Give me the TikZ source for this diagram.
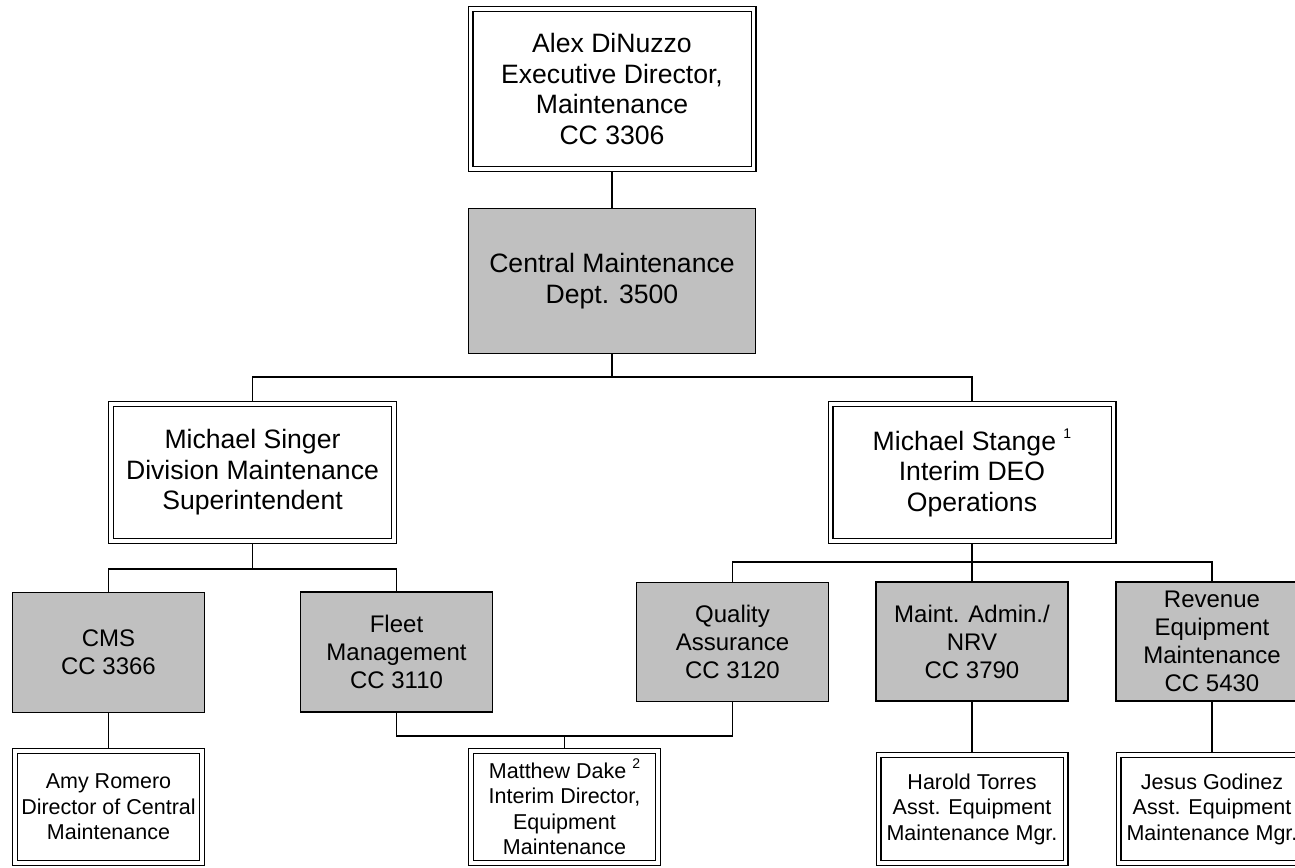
\documentclass[tikz,border=0pt]{standalone}
\usepackage{fontspec}
\setmainfont{Liberation Sans}
\usetikzlibrary{positioning}
\definecolor{unitgray}{RGB}{192,192,192}
\newcommand{\fnmark}[1]{\raisebox{0.45em}{\fontsize{14}{14}\selectfont #1}}

\begin{document}
\begin{tikzpicture}[
  x=1pt, y=-1pt,
  box/.style={draw, align=center, inner sep=0pt, line width=1.5pt},
  dbox/.style={box, double, line width=1.2pt, double distance=3.6pt, outer sep=3pt},
  gbox/.style={box, fill=unitgray, outer sep=0.75pt},
  lfont/.style={font=\fontsize{26.6}{30.5}\selectfont},
  mfont/.style={font=\fontsize{24}{28}\selectfont},
  sfont/.style={font=\fontsize{21.5}{25.5}\selectfont},
  conn/.style={line width=1.5pt}
]
\useasboundingbox (0,0) rectangle (1295,867);
\clip (0,0) rectangle (1295,867);

% --- Top ---
\node[dbox, lfont, minimum width=283pt, minimum height=160pt] (exec) at (612,89) {Alex DiNuzzo\\Executive Director,\\Maintenance\\CC 3306};
\node[gbox, lfont, minimum width=287pt, minimum height=145pt] (cmaint) at (612,281) {Central Maintenance\\Dept. 3500};

% --- Second level ---
\node[dbox, lfont, minimum width=283pt, minimum height=137pt] (singer) at (252.5,472.5) {Michael Singer\\Division Maintenance\\Superintendent};
\node[dbox, lfont, minimum width=283pt, minimum height=137pt] (stange) at (972,472.5) {Michael Stange \fnmark{1}\\Interim DEO\\Operations};

% --- Units ---
\node[gbox, mfont, minimum width=192pt, minimum height=120pt] (cms) at (108.5,652.5) {CMS\\CC 3366};
\node[gbox, mfont, minimum width=192pt, minimum height=120pt] (fleet) at (396.5,652) {Fleet\\Management\\CC 3110};
\node[gbox, mfont, minimum width=192pt, minimum height=119pt] (qa) at (732.5,642) {Quality\\Assurance\\CC 3120};
\node[gbox, mfont, minimum width=192pt, minimum height=119pt] (madmin) at (972,641.5) {Maint. Admin./\\NRV\\CC 3790};
\node[gbox, mfont, minimum width=192pt, minimum height=119pt] (revenue) at (1212,641.5) {Revenue\\Equipment\\Maintenance\\CC 5430};

% --- Managers ---
\node[dbox, sfont, minimum width=187pt, minimum height=112pt] (amy) at (108.5,807) {Amy Romero\\Director of Central\\Maintenance};
\node[dbox, sfont, minimum width=187pt, minimum height=112pt] (dake) at (564.5,807) {Matthew Dake \fnmark{2}\\Interim Director,\\Equipment\\Maintenance};
\node[dbox, sfont, minimum width=187pt, minimum height=108pt] (harold) at (972,809) {Harold Torres\\Asst. Equipment\\Maintenance Mgr.};
\node[dbox, sfont, minimum width=187pt, minimum height=108pt] (jesus) at (1212,809) {Jesus Godinez\\Asst. Equipment\\Maintenance Mgr.};

% --- Connectors ---
\draw[conn] (exec) -- (cmaint);
\coordinate (busA) at (612,377);
\draw[conn] (cmaint) -- (busA);
\draw[conn] (singer.north) |- (busA) -| (stange.north);

\coordinate (busB) at (252.5,569);
\draw[conn] (singer) -- (busB);
\draw[conn] (cms.north) |- (busB) -| (fleet.north);

\coordinate (busC) at (972,562);
\draw[conn] (stange) -- (madmin);
\draw[conn] (qa.north) |- (busC) -| (revenue.north);

\coordinate (busD) at (564.5,736);
\draw[conn] (fleet.south) |- (busD) -| (qa.south);
\draw[conn] (busD) -- (dake);
\draw[conn] (cms) -- (amy);
\draw[conn] (madmin) -- (harold);
\draw[conn] (revenue) -- (jesus);

\end{tikzpicture}
\end{document}
